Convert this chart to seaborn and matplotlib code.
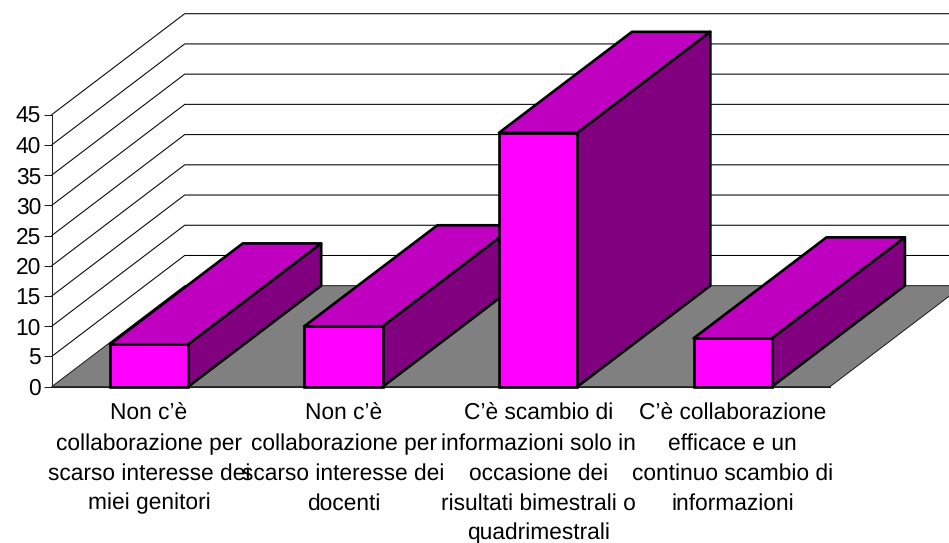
import matplotlib
matplotlib.use('Agg')
import matplotlib.pyplot as plt
from matplotlib.patches import Polygon
import seaborn as sns

categories = [
    'Non c’è\ncollaborazione per\nscarso interesse dei\nmiei genitori',
    'Non c’è\ncollaborazione per\nscarso interesse dei\ndocenti',
    'C’è scambio di\ninformazioni solo in\noccasione dei\nrisultati bimestrali o\nquadrimestrali',
    'C’è collaborazione\nefficace e un\ncontinuo scambio di\ninformazioni',
]
values = [7, 10, 42, 8]
y_ticks = [0, 5, 10, 15, 20, 25, 30, 35, 40, 45]


def main():
    sns.set_theme(style='white')
    plt.rcParams['font.family'] = ['Liberation Sans', 'DejaVu Sans']
    plt.rcParams['text.hinting'] = 'no_hinting'

    W, H = 949, 543
    fig = plt.figure(figsize=(W / 100, H / 100), dpi=100)
    # axes box is the front plane of the fake 3d chart
    left, right, bottom, top = 51.7, 830.0, 386.7, 114.7
    ax = fig.add_axes([left / W, 1 - bottom / H, (right - left) / W, (bottom - top) / H])

    sns.barplot(x=categories, y=values, color='#FF00FF', saturation=1, width=0.403,
                edgecolor='black', linewidth=1.9, ax=ax)
    ax.set_xlim(-0.5, 3.5)
    ax.set_ylim(0, 45)

    # depth offset in data units
    dx = 133 / ((right - left) / 4)
    dy = 101 / ((bottom - top) / 45)

    # walls and floor
    for v in y_ticks[1:]:
        ax.plot([-0.5, -0.5 + dx, 6], [v, v + dy, v + dy], color='black', lw=0.75,
                clip_on=False, zorder=1)
    floor = [(-0.5, 0), (3.5, 0), (3.5 + dx, dy), (-0.5 + dx, dy)]
    ax.add_patch(Polygon(floor, closed=True, facecolor='#808080', edgecolor='black',
                         lw=0.6, clip_on=False, zorder=1.5))

    # bars left to right so the later ones sit on top
    for i, bar in enumerate(ax.patches[:len(values)]):
        x0 = bar.get_x()
        x1 = x0 + bar.get_width()
        h = bar.get_height()
        top_face = [(x0, h), (x1, h), (x1 + dx, h + dy), (x0 + dx, h + dy)]
        side_face = [(x1, 0), (x1 + dx, dy), (x1 + dx, h + dy), (x1, h)]
        ax.add_patch(Polygon(top_face, closed=True, facecolor='#C000C0', edgecolor='black',
                             lw=1.9, joinstyle='round', clip_on=False, zorder=3 + i))
        ax.add_patch(Polygon(side_face, closed=True, facecolor='#800080', edgecolor='black',
                             lw=1.9, joinstyle='round', clip_on=False, zorder=3 + i))
        bar.set_zorder(3.5 + i)
        bar.set_clip_on(False)

    sns.despine(ax=ax)
    for side in ['left', 'bottom']:
        ax.spines[side].set_color('#202020')
        ax.spines[side].set_linewidth(0.75)
    ax.set_yticks(y_ticks)
    ax.tick_params(axis='y', left=True, length=5.5, width=0.75, color='#202020', pad=2.2,
                   labelsize=16.4, labelcolor='black')
    ax.tick_params(axis='x', bottom=False, pad=6, labelsize=16.4, labelcolor='black')
    for lab in ax.get_xticklabels():
        lab.set_linespacing(1.5)
        lab.set_ha('center')

    fig.savefig('out.png', dpi=100)


if __name__ == "__main__":
    main()
